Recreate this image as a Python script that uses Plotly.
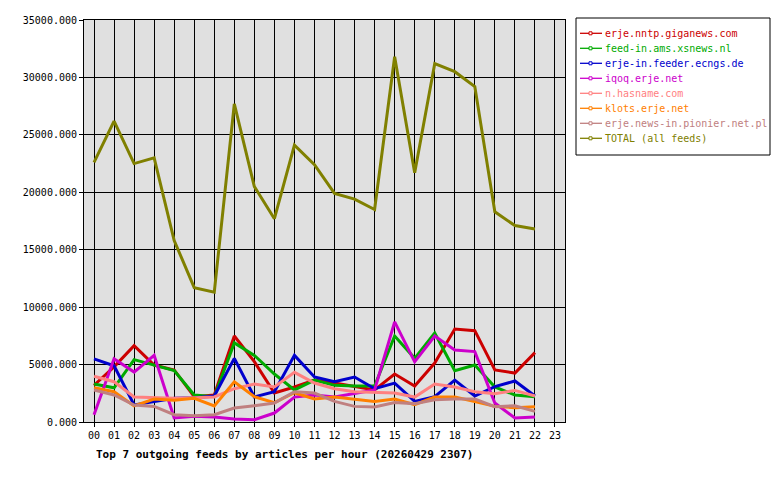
import plotly.graph_objects as go

hours = [f"{h:02d}" for h in range(24)]
names = ["erje.nntp.giganews.com", "feed-in.ams.xsnews.nl", "erje-in.feeder.ecngs.de",
         "iqoq.erje.net", "n.hasname.com", "klots.erje.net",
         "erje.news-in.pionier.net.pl", "TOTAL (all feeds)"]
colors = ["#cc0000", "#00aa00", "#0000cc", "#cc00cc", "#ff8080", "#ff8000", "#c08080", "#808000"]

giganews = [3200, 4800, 6640, 4960, 4530, 2200, 2350, 7490, 5250, 2520, 3050, 3650, 3390, 3080, 2790, 4180, 3130, 5130, 8100, 7950, 4530, 4260, 6040]
xsnews = [3300, 2980, 5430, 4960, 4470, 2350, 2200, 6890, 5800, 4180, 2790, 3650, 3190, 3130, 3130, 7490, 5540, 7750, 4470, 4960, 3050, 2350, 2200]
ecngs = [5500, 4900, 1490, 1770, 2060, 2120, 2260, 5540, 2180, 2640, 5800, 3920, 3510, 3920, 2900, 3390, 1790, 2200, 3650, 2260, 3080, 3570, 2260]
iqoq = [640, 5500, 4350, 5800, 350, 490, 440, 260, 200, 780, 2170, 2350, 2170, 2460, 2790, 8720, 5240, 7490, 6270, 6130, 1650, 350, 440]
hasname = [3980, 3510, 2180, 2120, 2060, 2120, 2180, 2900, 3300, 3050, 4320, 3390, 2900, 2640, 2590, 2520, 2170, 3300, 3050, 2640, 2460, 2750, 2260]
klots = [2980, 2640, 1400, 2000, 1900, 2060, 1400, 3510, 2200, 1690, 2550, 2000, 2170, 2000, 1790, 2000, 1500, 2170, 2170, 1790, 1360, 1250, 1330]
pionier = [2790, 2350, 1480, 1360, 640, 550, 640, 1220, 1420, 1650, 2640, 2520, 1790, 1360, 1300, 1700, 1600, 1940, 2000, 2000, 1330, 1420, 920]
total = [22600, 26200, 22500, 23000, 15800, 11700, 11300, 27700, 20500, 17700, 24100, 22400, 19900, 19400, 18500, 31800, 21700, 31200, 30500, 29200, 18300, 17100, 16800]

series = [giganews, xsnews, ecngs, iqoq, hasname, klots, pionier, total]

fig = go.Figure()
for name, col, vals in zip(names, colors, series):
    fig.add_trace(go.Scatter(
        x=hours[:len(vals)], y=vals, mode="lines", name=name,
        line=dict(color=col, width=3)))

font = "DejaVu Sans Mono"

# plot area in image pixels: x 84..565, y 20..422
def px(x): return (x - 84) / 481
def py(y): return (422 - y) / 402

shapes = [dict(type="rect", xref="paper", yref="paper",
               x0=px(576), x1=px(770), y0=py(18), y1=py(155),
               line=dict(color="black", width=1), fillcolor="white")]
annotations = []
for i, (name, col) in enumerate(zip(names, colors)):
    yc = 33.3 + i * 15
    shapes.append(dict(type="line", xref="paper", yref="paper",
                       x0=px(580), x1=px(602), y0=py(yc), y1=py(yc),
                       line=dict(color=col, width=1.3)))
    shapes.append(dict(type="rect", xref="paper", yref="paper",
                       x0=px(589), x1=px(592), y0=py(yc - 1.5), y1=py(yc + 1.5),
                       line=dict(color=col, width=1), fillcolor="white"))
    annotations.append(dict(text=name, xref="paper", yref="paper",
                            x=px(603), y=py(yc), xanchor="left", yanchor="middle",
                            showarrow=False, font=dict(family=font, size=10, color=col)))

annotations.append(dict(text="<b>Top 7 outgoing feeds by articles per hour (20260429 2307)</b>",
                        xref="paper", yref="paper", x=0.02, y=-0.06, xanchor="left",
                        yanchor="top", showarrow=False, font=dict(family=font, size=11)))

fig.update_layout(
    width=780, height=480,
    margin=dict(l=76, r=223, t=12, b=66, autoexpand=False),
    paper_bgcolor="white", plot_bgcolor="#e0e0e0",
    font=dict(family=font, size=10, color="black"),
    showlegend=False,
    xaxis=dict(type="category", categoryorder="array", categoryarray=hours,
               range=[-0.5, 23.5], showgrid=True, gridcolor="black", gridwidth=1,
               showline=True, linecolor="black", mirror=True, ticks="outside",
               ticklen=4, tickcolor="black", zeroline=False, automargin=False),
    yaxis=dict(range=[0, 35000], dtick=5000, tickformat=".3f",
               showgrid=True, gridcolor="black", gridwidth=1,
               showline=True, linecolor="black", mirror=True, ticks="outside",
               ticklen=4, tickcolor="black", zeroline=False, automargin=False),
    shapes=shapes,
    annotations=annotations,
)
fig.write_html("out.html")
